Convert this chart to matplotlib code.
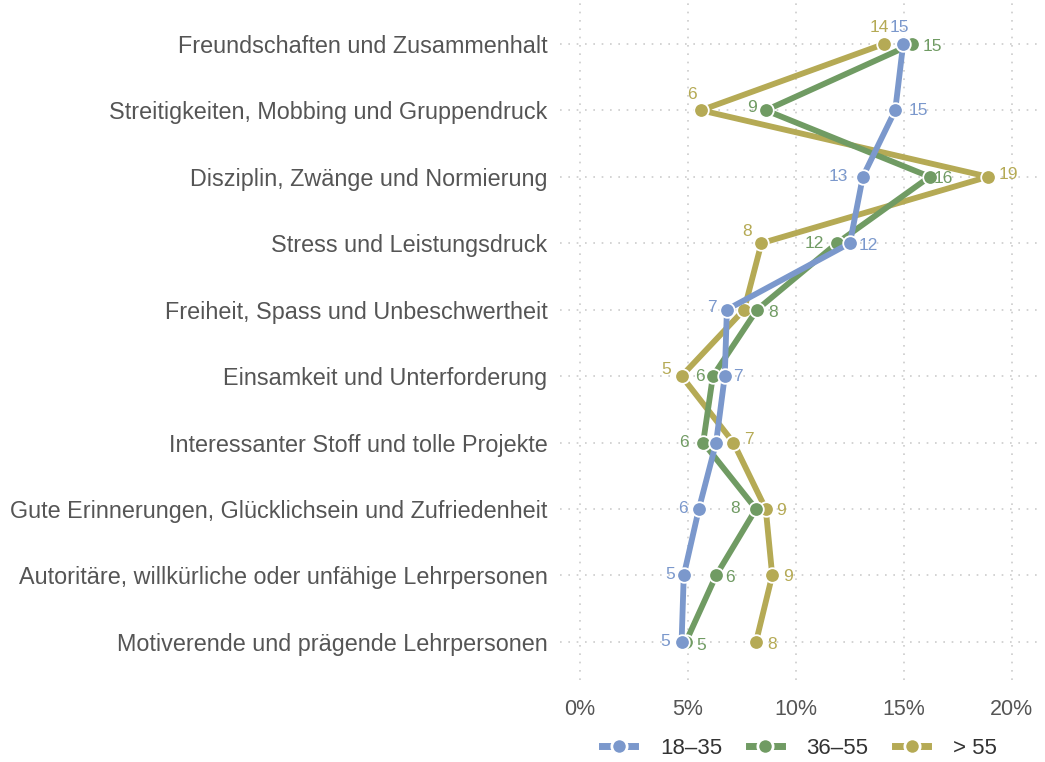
import matplotlib.pyplot as plt
from matplotlib.lines import Line2D

categories = [
    "Freundschaften und Zusammenhalt",
    "Streitigkeiten, Mobbing und Gruppendruck",
    "Disziplin, Zwänge und Normierung",
    "Stress und Leistungsdruck",
    "Freiheit, Spass und Unbeschwertheit",
    "Einsamkeit und Unterforderung",
    "Interessanter Stoff und tolle Projekte",
    "Gute Erinnerungen, Glücklichsein und Zufriedenheit",
    "Autoritäre, willkürliche oder unfähige Lehrpersonen",
    "Motiverende und prägende Lehrpersonen",
]
groups = ["18–35", "36–55", "> 55"]
values_18_35 = [14.97, 14.6, 13.1, 12.5, 6.8, 6.7, 6.3, 5.5, 4.8, 4.7]
values_36_55 = [15.4, 8.6, 16.2, 11.9, 8.2, 6.15, 5.7, 8.15, 6.3, 4.9]
values_55 = [14.1, 5.6, 18.9, 8.4, 7.6, 4.7, 7.1, 8.6, 8.9, 8.15]
xticks = [0, 5, 10, 15, 20]

colors = ["#7b98cc", "#709b63", "#b5aa55"]
# label offsets in points (None = no label)
offsets_18_35 = [(-3, 11.5), (16.5, 0), (-18, 0), (13.5, -1.5), (-11, 1.5), (9.5, 0), None,
                 (-11.5, 0), (-10, 1), (-12, 0)]
offsets_36_55 = [(14, -2), (-10, 2), (10, -1), (-16, 0), (11.5, -2), (-9.5, 0), (-13.5, 0),
                 (-15, 0), (10, -1.5), (11, -3)]
offsets_55 = [(-4, 11.5), (-6.5, 11.5), (14.5, 1.5), (-10, 8.5), None, (-11, 5), (11, 2),
              (11, -1), (11.5, -1), (11.5, -2)]

plt.rcParams['font.family'] = ['Liberation Sans', 'DejaVu Sans']

fig = plt.figure(figsize=(10.45, 7.62), dpi=100)
ax = fig.add_axes([0.536, 0.108, 0.459, 0.892])

ypos = list(range(len(categories)))
series = [values_18_35, values_36_55, values_55]
offsets = [offsets_18_35, offsets_36_55, offsets_55]

# draw olive first, blue on top
for i in [2, 1, 0]:
    vals = series[i]
    ax.plot(vals, ypos, color=colors[i], lw=4.2, marker="o", ms=10.5,
            markeredgecolor="white", markeredgewidth=1.3, zorder=3 + (2 - i),
            solid_capstyle="round")
    for v, y, off in zip(vals, ypos, offsets[i]):
        if off is None:
            continue
        ax.annotate(f"{round(v)}", (v, y), xytext=off, textcoords="offset points",
                    ha="center", va="center", fontsize=12.5, color=colors[i], zorder=10)

ax.set_xlim(-0.93, 21.3)
ax.set_ylim(9.57, -0.66)
ax.set_yticks(ypos)
ax.set_yticklabels(categories, fontsize=16.8, color="#555555")
ax.set_xticks(xticks)
ax.set_xticklabels([f"{t}%" for t in xticks], fontsize=15.5, color="#555555")
ax.tick_params(length=0)
ax.tick_params(axis="x", pad=14)
ax.tick_params(axis="y", pad=9)
ax.grid(True, color="#cccccc", linestyle=(0, (1, 4)), lw=1.2)
ax.set_axisbelow(True)
for s in ax.spines.values():
    s.set_visible(False)

handles = [Line2D([0], [0], color=c, lw=5, marker="o", ms=11, markeredgecolor="white",
                  markeredgewidth=2) for c in colors]
fig.legend(handles, groups, loc="center", bbox_to_anchor=(0.765, 0.018), ncol=3,
           frameon=False, fontsize=16, handlelength=1.5, columnspacing=1.2,
           handletextpad=1.1, labelcolor="#333333")

fig.savefig("out.png", dpi=100)
